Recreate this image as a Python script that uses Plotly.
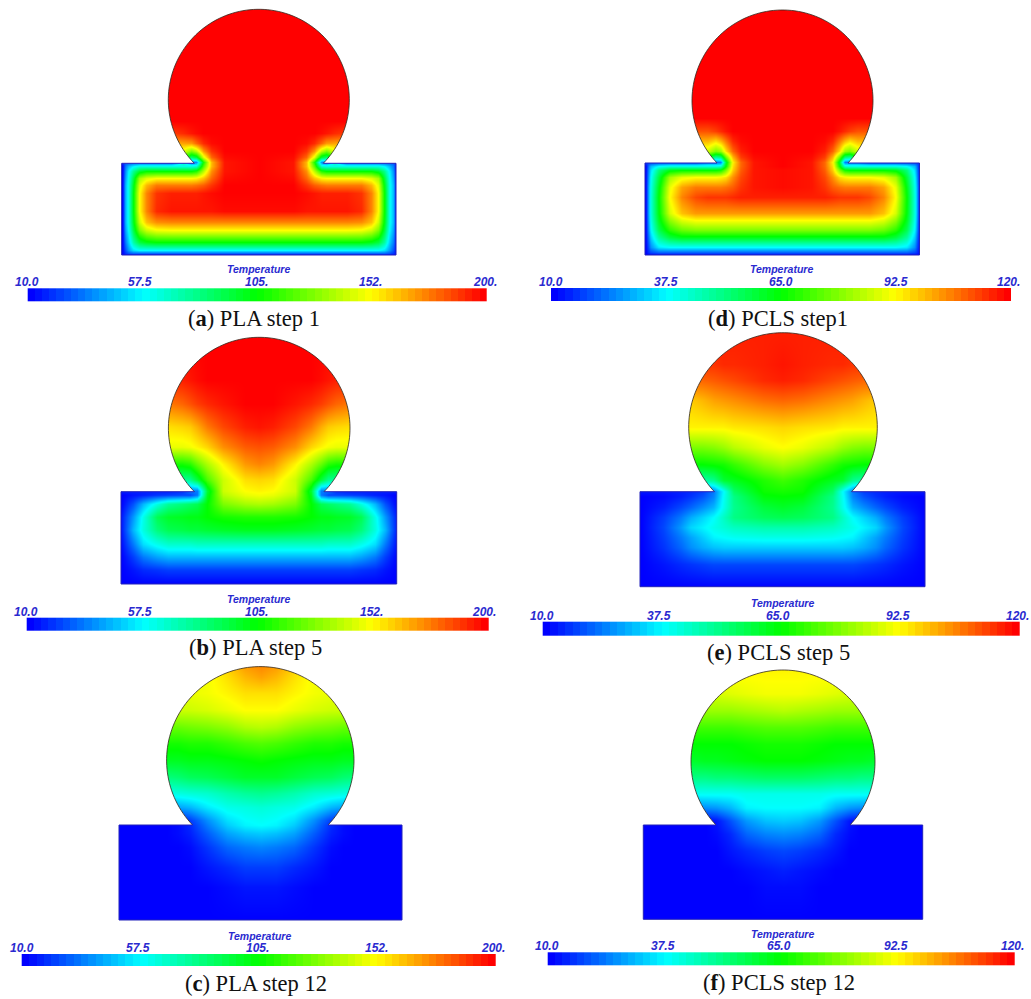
import numpy as np
import plotly.graph_objects as go

RAINBOW = [[0, "#0000ff"], [0.25, "#00ffff"], [0.5, "#00ff00"], [0.75, "#ffff00"], [1, "#ff0000"]]

# Rows run down the part, columns run from the part's left edge to its centre.
A_U = [0, 3, 7, 12, 18, 25, 35, 50, 62, 70, 75, 82, 90, 103, 137]
A_V = [-156, -42, -30, -20, -12, -6, -1, 3, 8, 15, 22, 30, 48, 59, 67, 79, 87, 90, 92]
A_LEVEL = [
    [100] * 15,
    [100] * 15,
    [94, 94, 94, 94, 94, 94, 94, 94, 96, 98, 99, 100, 100, 100, 100],
    [83, 83, 83, 83, 83, 83, 83, 83, 84, 85, 90, 96, 99, 100, 100],
    [72, 72, 72, 72, 72, 72, 72, 72, 72, 62, 68, 85, 95, 100, 100],
    [55, 55, 55, 55, 55, 55, 55, 55, 55, 40, 45, 72, 90, 99, 100],
    [5, 8, 8, 8, 8, 8, 8, 8, 30, 12, 14, 52, 82, 98, 100],
    [0, 12, 18, 24, 28, 28, 28, 28, 28, 28, 30, 58, 82, 98, 100],
    [0, 14, 24, 36, 46, 50, 50, 50, 50, 50, 53, 68, 86, 98, 100],
    [0, 16, 26, 44, 66, 72, 75, 75, 75, 75, 76, 81, 90, 99, 100],
    [0, 18, 27, 48, 72, 82, 88, 88, 88, 88, 89, 91, 95, 100, 100],
    [0, 18, 27, 50, 75, 87, 95, 97, 97, 97, 97, 98, 99, 100, 100],
    [0, 18, 27, 50, 75, 87, 96, 98, 98, 98, 98, 98, 98, 99, 99],
    [0, 18, 27, 48, 70, 81, 86, 87, 87, 87, 87, 87, 87, 87, 87],
    [0, 16, 25, 44, 62, 70, 74, 75, 75, 75, 75, 75, 75, 75, 75],
    [0, 12, 20, 34, 44, 48, 50, 50, 50, 50, 50, 50, 50, 50, 50],
    [0, 8, 15, 22, 25, 25, 25, 25, 25, 25, 25, 25, 25, 25, 25],
    [0, 5, 8, 10, 10, 10, 10, 10, 10, 10, 10, 10, 10, 10, 10],
    [0] * 15,
]

B_U = [0, 12, 22, 36, 47, 61, 69, 76, 86, 102, 124, 138]
B_V = [-156, -112, -88, -65, -45, -28, -12, -1, 3, 12, 25, 38, 52, 65, 78, 92]
B_LEVEL = [
    [100] * 12,
    [97, 97, 97, 97, 97, 97, 98, 99, 100, 100, 100, 100],
    [88, 88, 88, 88, 88, 90, 92, 94, 96, 98, 100, 100],
    [78, 78, 78, 78, 78, 79, 80, 83, 88, 93, 97, 98],
    [73, 73, 73, 73, 73, 73, 74, 76, 79, 86, 91, 92],
    [52, 52, 52, 52, 52, 52, 54, 60, 67, 76, 85, 87],
    [35, 35, 35, 35, 35, 35, 36, 44, 57, 70, 78, 79],
    [3, 3, 3, 3, 3, 5, 12, 12, 45, 70, 75, 76],
    [0, 2, 3, 5, 6, 7, 7, 12, 47, 68, 73, 74],
    [0, 8, 18, 28, 35, 38, 40, 42, 50, 62, 66, 67],
    [2, 15, 27, 42, 46, 47, 48, 48, 50, 52, 53, 53],
    [2, 18, 28, 38, 42, 43, 44, 44, 45, 46, 47, 47],
    [1, 12, 22, 27, 30, 30, 30, 31, 31, 31, 31, 31],
    [0, 6, 12, 16, 18, 18, 18, 18, 18, 18, 18, 18],
    [0, 2, 4, 5, 6, 6, 6, 6, 6, 6, 6, 6],
    [0] * 12,
]

C_U = [0, 48, 59, 71, 88, 108, 126, 141]
C_V = [-160, -148, -132, -115, -98, -82, -65, -48, -32, -18, -5, 0, 8, 22, 42, 62, 95]
C_LEVEL = [
    [70, 70, 70, 70, 74, 80, 85, 87],
    [70, 70, 70, 72, 74, 78, 82, 84],
    [72, 72, 72, 73, 74, 76, 78, 78],
    [70, 70, 70, 70, 71, 73, 75, 75],
    [60, 60, 60, 61, 62, 64, 67, 68],
    [52, 52, 52, 53, 53, 55, 57, 58],
    [47, 47, 47, 48, 48, 49, 50, 51],
    [38, 38, 39, 41, 42, 44, 46, 46],
    [27, 27, 28, 29, 30, 33, 35, 36],
    [15, 15, 16, 18, 23, 27, 28, 29],
    [0, 1, 2, 6, 14, 22, 25, 26],
    [0, 0, 1, 4, 12, 20, 24, 25],
    [0, 0, 1, 3, 9, 16, 19, 20],
    [0, 0, 0, 1, 5, 10, 12, 13],
    [0, 0, 0, 0, 2, 4, 6, 6],
    [0, 0, 0, 0, 0, 1, 2, 2],
    [0] * 8,
]

D_U = [0, 3, 5, 13, 24, 36, 50, 62, 70, 75, 80, 87, 95, 108, 137]
D_V = [-157, -45, -32, -22, -12, -6, -1, 3, 7, 14, 24, 34, 50, 57, 67, 74, 84, 89, 92]
D_LEVEL = [
    [100] * 15,
    [100] * 15,
    [92, 92, 92, 92, 92, 92, 92, 92, 94, 96, 98, 100, 100, 100, 100],
    [82, 82, 82, 82, 82, 82, 82, 82, 78, 82, 88, 96, 99, 100, 100],
    [70, 70, 70, 70, 70, 70, 70, 70, 62, 65, 78, 90, 97, 100, 100],
    [50, 50, 50, 50, 50, 50, 50, 50, 35, 38, 60, 82, 94, 99, 100],
    [6, 6, 6, 6, 6, 6, 6, 12, 12, 12, 45, 76, 90, 98, 100],
    [0, 12, 18, 25, 28, 28, 28, 28, 28, 30, 50, 78, 90, 98, 100],
    [0, 14, 22, 38, 48, 50, 50, 50, 50, 52, 62, 80, 91, 98, 99],
    [0, 16, 25, 44, 66, 73, 75, 75, 75, 76, 78, 86, 93, 98, 99],
    [0, 18, 27, 48, 73, 84, 88, 88, 88, 88, 89, 91, 95, 98, 99],
    [0, 18, 28, 50, 75, 87, 93, 95, 95, 95, 95, 96, 97, 97, 97],
    [0, 18, 28, 49, 71, 81, 85, 85, 85, 85, 85, 85, 85, 85, 85],
    [0, 17, 27, 47, 64, 72, 75, 75, 75, 75, 75, 75, 75, 75, 75],
    [0, 15, 24, 42, 54, 60, 62, 62, 62, 62, 62, 62, 62, 62, 62],
    [0, 12, 20, 35, 44, 48, 48, 48, 48, 48, 48, 48, 48, 48, 48],
    [0, 8, 14, 23, 25, 25, 25, 25, 25, 25, 25, 25, 25, 25, 25],
    [0, 5, 7, 10, 10, 10, 10, 10, 10, 10, 10, 10, 10, 10, 10],
    [0] * 15,
]

E_U = [0, 23, 40, 50, 62, 73, 83, 93, 123, 142]
E_V = [-161, -128, -112, -92, -65, -45, -28, -12, -1, 4, 15, 25, 35, 45, 55, 72, 95]
E_LEVEL = [
    [97] * 10,
    [95, 95, 95, 95, 95, 95, 96, 96, 97, 98],
    [90, 90, 90, 90, 90, 91, 92, 93, 96, 97],
    [80, 80, 80, 80, 82, 84, 85, 86, 89, 90],
    [76, 76, 76, 76, 76, 76, 76, 77, 78, 79],
    [62, 62, 62, 62, 62, 63, 65, 68, 73, 75],
    [50, 50, 50, 50, 50, 51, 52, 55, 63, 66],
    [33, 33, 33, 33, 33, 36, 45, 47, 53, 56],
    [2, 2, 3, 4, 6, 12, 25, 40, 51, 52],
    [0, 1, 3, 5, 8, 13, 26, 37, 49, 50],
    [0, 3, 7, 10, 14, 18, 27, 36, 44, 46],
    [0, 6, 12, 17, 21, 25, 31, 37, 41, 42],
    [0, 7, 15, 21, 24, 27, 29, 31, 33, 33],
    [0, 6, 12, 16, 20, 24, 25, 26, 27, 27],
    [0, 5, 10, 14, 17, 19, 20, 20, 20, 20],
    [0, 2, 4, 5, 6, 7, 7, 7, 7, 7],
    [0] * 10,
]

F_U = [0, 50, 62, 73, 87, 103, 122, 139]
F_V = [-157, -132, -115, -98, -82, -65, -48, -32, -18, -5, 8, 25, 45, 62, 94]
F_LEVEL = [
    [76] * 8,
    [71, 71, 71, 71, 72, 73, 74, 74],
    [65, 65, 65, 65, 65, 66, 67, 68],
    [56, 56, 56, 56, 56, 57, 58, 58],
    [50, 50, 50, 50, 50, 51, 52, 52],
    [46, 46, 47, 47, 48, 49, 50, 50],
    [37, 37, 37, 38, 38, 39, 40, 40],
    [26, 26, 26, 26, 26, 27, 27, 27],
    [12, 13, 14, 15, 18, 24, 25, 25],
    [0, 0, 0, 2, 8, 15, 19, 20],
    [0, 0, 0, 1, 4, 10, 13, 14],
    [0, 0, 0, 0, 2, 4, 6, 7],
    [0, 0, 0, 0, 0, 1, 2, 3],
    [0, 0, 0, 0, 0, 0, 1, 1],
    [0] * 8,
]

PLA_RANGE = (10, 200)
PCLS_RANGE = (10, 120)
PLA_TICKS = ["10.0", "57.5", "105.", "152.", "200."]
PCLS_TICKS = ["10.0", "37.5", "65.0", "92.5", "120."]

# left/right/top/bottom of the block; centre and radius of the ball
PANELS = [
    dict(u=A_U, v=A_V, z=A_LEVEL, rng=PLA_RANGE, ticks=PLA_TICKS, rect=(121.7, 396, 163.3, 255), circ=(258.8, 99.8, 90.5),
         bar=(27.7, 486.7, 288.3, 301.7), tick_x=[27, 140, 256, 370, 485], tick_y=282, title=(258, 269),
         cap="(<b>a</b>) PLA step 1", cap_xy=(254, 318)),
    dict(u=B_U, v=B_V, z=B_LEVEL, rng=PLA_RANGE, ticks=PLA_TICKS, rect=(121, 396.7, 491.7, 584), circ=(259.2, 428.1, 90.8),
         bar=(26.7, 488.3, 617.7, 630.7), tick_x=[26, 140, 256, 371, 484], tick_y=611.7, title=(258, 599.3),
         cap="(<b>b</b>) PLA step 5", cap_xy=(255, 647)),
    dict(u=C_U, v=C_V, z=C_LEVEL, rng=PLA_RANGE, ticks=PLA_TICKS, rect=(119, 402, 825, 920), circ=(260.3, 760.3, 93.7),
         bar=(21.7, 496, 954, 966), tick_x=[21.7, 138, 257, 376, 493], tick_y=947.7, title=(259, 935.7),
         cap="(<b>c</b>) PLA step 12", cap_xy=(256, 983)),
    dict(u=D_U, v=D_V, z=D_LEVEL, rng=PCLS_RANGE, ticks=PCLS_TICKS, rect=(645, 919.5, 163, 255), circ=(782.5, 100.5, 90.5),
         bar=(551, 1011, 288, 301), tick_x=[551, 666, 781, 896, 1008], tick_y=282, title=(781, 269),
         cap="(<b>d</b>) PCLS step1", cap_xy=(778, 318)),
    dict(u=E_U, v=E_V, z=E_LEVEL, rng=PCLS_RANGE, ticks=PCLS_TICKS, rect=(640, 925, 491.7, 586.7), circ=(783, 427, 94.3),
         bar=(542.7, 1019.3, 621.7, 635.7), tick_x=[542, 659, 778, 898, 1017], tick_y=615.7, title=(782, 602.7),
         cap="(<b>e</b>) PCLS step 5", cap_xy=(778, 652)),
    dict(u=F_U, v=F_V, z=F_LEVEL, rng=PCLS_RANGE, ticks=PCLS_TICKS, rect=(643.3, 922.7, 825, 919.3), circ=(783, 762, 92),
         bar=(547.7, 1015, 952.3, 965.7), tick_x=[547, 663, 779, 896, 1012], tick_y=946, title=(782, 934),
         cap="(<b>f</b>) PCLS step 12", cap_xy=(778.5, 982)),
]

BAR_STEPS = 64
TICK_BLUE = "#2a2ad0"
TICK_FONT = dict(family="Liberation Sans", size=12, color=TICK_BLUE)


def ball_arc(rect, circ):
    left, right, top, bottom = rect
    cx, cy, r = circ
    half = np.sqrt(r ** 2 - (top - cy) ** 2)
    start = np.arctan2(top - cy, -half)
    stop = np.arctan2(top - cy, half)
    if stop < start:
        stop += 2 * np.pi
    return [(cx + r * np.cos(a), cy + r * np.sin(a)) for a in np.linspace(start, stop, 120)]


def line_path(points):
    return "M" + " L".join(f"{x:.2f},{y:.2f}" for x, y in points)


fig = go.Figure()
shapes = []
annotations = []


def add_text(x, y, text, font):
    annotations.append(dict(x=x, y=y, xref="x", yref="y", text=text, showarrow=False,
                            xanchor="center", yanchor="middle", font=font))


for p in PANELS:
    left, right, top, bottom = p["rect"]
    lo, hi = p["rng"]
    cx_rect = (left + right) / 2
    us = p["u"]
    xs = [left + u for u in us[:-1]] + [cx_rect] + [right - u for u in reversed(us[:-1])]
    ys = [top + v for v in p["v"]]
    ys[-1] = bottom
    rows = [list(r) + list(reversed(r[:-1])) for r in p["z"]]
    temps = [[lo + (hi - lo) * c / 100 for c in r] for r in rows]
    fig.add_trace(go.Heatmap(x=xs, y=ys, z=temps, zmin=lo, zmax=hi, colorscale=RAINBOW,
                             zsmooth="best", showscale=False, hoverinfo="skip"))

    arc = ball_arc(p["rect"], p["circ"])
    loop = [(left, bottom), (left, top)] + arc + [(right, top), (right, bottom)]
    # the heatmap reaches half a cell past its outer rows and columns
    x0 = xs[0] - (xs[1] - xs[0]) / 2 - 2
    x1 = xs[-1] + (xs[-1] - xs[-2]) / 2 + 2
    y0 = ys[0] - (ys[1] - ys[0]) / 2 - 2
    y1 = ys[-1] + (ys[-1] - ys[-2]) / 2 + 2
    outer = [(x0, y0), (x1, y0), (x1, y1), (x0, y1)]
    shapes.append(dict(type="path", xref="x", yref="y", layer="above", fillrule="evenodd",
                       path=line_path(outer) + " Z " + line_path(loop) + " Z",
                       fillcolor="white", line=dict(width=0)))
    shapes.append(dict(type="path", xref="x", yref="y", layer="above",
                       path=line_path(arc), line=dict(color="rgba(50,40,30,0.8)", width=1)))
    shapes.append(dict(type="path", xref="x", yref="y", layer="above",
                       path=line_path([arc[0], (left, top), (left, bottom), (right, bottom), (right, top), arc[-1]]),
                       line=dict(color="#2222bb", width=1)))

    bx0, bx1, by0, by1 = p["bar"]
    bar_levels = np.linspace(lo, hi, BAR_STEPS)
    fig.add_trace(go.Heatmap(z=[bar_levels.tolist()], x0=bx0 + (bx1 - bx0) / BAR_STEPS / 2, dx=(bx1 - bx0) / BAR_STEPS,
                             y0=(by0 + by1) / 2, dy=by1 - by0, zmin=lo, zmax=hi, colorscale=RAINBOW,
                             showscale=False, hoverinfo="skip"))
    for x, label in zip(p["tick_x"], p["ticks"]):
        add_text(x, p["tick_y"], f"<b><i>{label}</i></b>", TICK_FONT)
    add_text(p["title"][0], p["title"][1], "<b><i>Temperature</i></b>", dict(TICK_FONT, size=10.5))
    add_text(p["cap_xy"][0], p["cap_xy"][1], p["cap"], dict(family="Liberation Serif", size=22.5, color="#111111"))

fig.update_layout(
    width=1031, height=999, margin=dict(l=0, r=0, t=0, b=0), autosize=False,
    plot_bgcolor="white", paper_bgcolor="white", showlegend=False,
    shapes=shapes, annotations=annotations,
    xaxis=dict(range=[0, 1031], visible=False, fixedrange=True),
    yaxis=dict(range=[999, 0], visible=False, fixedrange=True),
)
fig.write_html("out.html", config=dict(displayModeBar=False),
               post_script="document.body.style.margin='0';document.documentElement.style.overflow='hidden';")
